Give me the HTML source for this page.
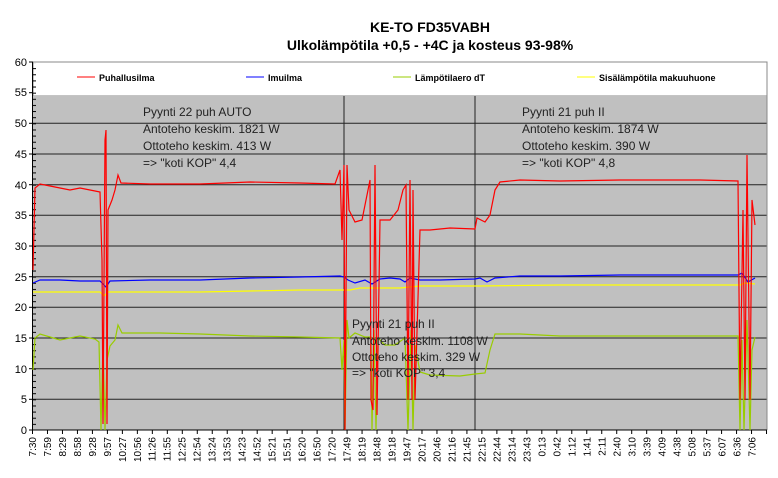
<!DOCTYPE html>
<html><head><meta charset="utf-8"><style>
body{margin:0;background:#fff;width:778px;height:478px;overflow:hidden}
svg{display:block;font-family:"Liberation Sans",Arial,sans-serif}
</style></head><body>
<svg width="778" height="478" viewBox="0 0 778 478" xmlns="http://www.w3.org/2000/svg">
<defs>
<pattern id="ym" patternUnits="userSpaceOnUse" x="0" y="430" width="10" height="6.1333"><line x1="0" y1="0.5" x2="10" y2="0.5" stroke="#000" stroke-width="1"/></pattern>
<pattern id="xm" patternUnits="userSpaceOnUse" x="32" y="0" width="14.98" height="10"><line x1="0.5" y1="0" x2="0.5" y2="10" stroke="#000" stroke-width="1"/></pattern>
</defs>
<text x="430" y="32" text-anchor="middle" font-size="14" font-weight="bold">KE-TO FD35VABH</text>
<text x="430" y="50" text-anchor="middle" font-size="14" font-weight="bold">Ulkolämpötila +0,5 - +4C ja kosteus 93-98%</text>
<rect x="33" y="62" width="734" height="34" fill="#fff" stroke="#888" stroke-width="1"/>
<rect x="33" y="96" width="734" height="334" fill="#c0c0c0"/>
<g stroke="#222" stroke-width="1">
<line x1="33" y1="123.3" x2="767" y2="123.3"/><line x1="33" y1="154" x2="767" y2="154"/>
<line x1="33" y1="184.7" x2="767" y2="184.7"/><line x1="33" y1="215.3" x2="767" y2="215.3"/>
<line x1="33" y1="246" x2="767" y2="246"/><line x1="33" y1="276.7" x2="767" y2="276.7"/>
<line x1="33" y1="307.3" x2="767" y2="307.3"/><line x1="33" y1="338" x2="767" y2="338"/>
<line x1="33" y1="368.7" x2="767" y2="368.7"/><line x1="33" y1="399.3" x2="767" y2="399.3"/>
<line x1="344" y1="96" x2="344" y2="430"/><line x1="475" y1="96" x2="475" y2="430"/>
</g>
<line x1="767" y1="62" x2="767" y2="430" stroke="#888"/>
<rect x="33" y="63" width="3" height="367" fill="url(#ym)"/>
<rect x="29" y="61" width="4" height="370" fill="url(#ym)" opacity="0"/>
<g stroke="#000">
<line x1="29" y1="62" x2="33" y2="62"/><line x1="29" y1="92.7" x2="33" y2="92.7"/><line x1="29" y1="123.3" x2="33" y2="123.3"/><line x1="29" y1="154" x2="33" y2="154"/><line x1="29" y1="184.7" x2="33" y2="184.7"/><line x1="29" y1="215.3" x2="33" y2="215.3"/><line x1="29" y1="246" x2="33" y2="246"/><line x1="29" y1="276.7" x2="33" y2="276.7"/><line x1="29" y1="307.3" x2="33" y2="307.3"/><line x1="29" y1="338" x2="33" y2="338"/><line x1="29" y1="368.7" x2="33" y2="368.7"/><line x1="29" y1="399.3" x2="33" y2="399.3"/><line x1="29" y1="430" x2="33" y2="430"/>
</g>
<rect x="32" y="430" width="736" height="4" fill="url(#xm)"/>
<line x1="32.5" y1="62" x2="32.5" y2="430" stroke="#000"/>
<line x1="32.5" y1="430" x2="767" y2="430" stroke="#000"/>
<g font-size="11" fill="#000" text-anchor="end">
<text x="27" y="66">60</text><text x="27" y="96">55</text><text x="27" y="127">50</text><text x="27" y="158">45</text>
<text x="27" y="189">40</text><text x="27" y="219">35</text><text x="27" y="250">30</text><text x="27" y="281">25</text>
<text x="27" y="311">20</text><text x="27" y="342">15</text><text x="27" y="373">10</text><text x="27" y="403">5</text><text x="27" y="434">0</text>
</g>
<g font-size="10" fill="#000" text-anchor="end">
<text transform="translate(36,437) rotate(-90)">7:30</text>
<text transform="translate(51,437) rotate(-90)">7:59</text>
<text transform="translate(66,437) rotate(-90)">8:29</text>
<text transform="translate(81,437) rotate(-90)">8:58</text>
<text transform="translate(96,437) rotate(-90)">9:28</text>
<text transform="translate(111,437) rotate(-90)">9:57</text>
<text transform="translate(126,437) rotate(-90)">10:27</text>
<text transform="translate(141,437) rotate(-90)">10:56</text>
<text transform="translate(155.5,437) rotate(-90)">11:26</text>
<text transform="translate(170.5,437) rotate(-90)">11:55</text>
<text transform="translate(185.5,437) rotate(-90)">12:25</text>
<text transform="translate(200.5,437) rotate(-90)">12:54</text>
<text transform="translate(215.5,437) rotate(-90)">13:24</text>
<text transform="translate(230.5,437) rotate(-90)">13:53</text>
<text transform="translate(245.5,437) rotate(-90)">14:23</text>
<text transform="translate(260.5,437) rotate(-90)">14:52</text>
<text transform="translate(275.5,437) rotate(-90)">15:21</text>
<text transform="translate(290.5,437) rotate(-90)">15:51</text>
<text transform="translate(305.5,437) rotate(-90)">16:20</text>
<text transform="translate(320.5,437) rotate(-90)">16:50</text>
<text transform="translate(335.5,437) rotate(-90)">17:20</text>
<text transform="translate(350.5,437) rotate(-90)">17:49</text>
<text transform="translate(365.5,437) rotate(-90)">18:19</text>
<text transform="translate(380.5,437) rotate(-90)">18:48</text>
<text transform="translate(395.5,437) rotate(-90)">19:18</text>
<text transform="translate(410.5,437) rotate(-90)">19:47</text>
<text transform="translate(425.5,437) rotate(-90)">20:17</text>
<text transform="translate(440.5,437) rotate(-90)">20:46</text>
<text transform="translate(455.5,437) rotate(-90)">21:16</text>
<text transform="translate(470.5,437) rotate(-90)">21:45</text>
<text transform="translate(485.5,437) rotate(-90)">22:15</text>
<text transform="translate(500.5,437) rotate(-90)">22:44</text>
<text transform="translate(515.5,437) rotate(-90)">23:14</text>
<text transform="translate(530.5,437) rotate(-90)">23:43</text>
<text transform="translate(545.5,437) rotate(-90)">0:13</text>
<text transform="translate(560.5,437) rotate(-90)">0:42</text>
<text transform="translate(575.5,437) rotate(-90)">1:12</text>
<text transform="translate(590.5,437) rotate(-90)">1:41</text>
<text transform="translate(605.5,437) rotate(-90)">2:11</text>
<text transform="translate(620.5,437) rotate(-90)">2:40</text>
<text transform="translate(635.5,437) rotate(-90)">3:10</text>
<text transform="translate(650.5,437) rotate(-90)">3:39</text>
<text transform="translate(665.5,437) rotate(-90)">4:09</text>
<text transform="translate(680.5,437) rotate(-90)">4:38</text>
<text transform="translate(695.5,437) rotate(-90)">5:08</text>
<text transform="translate(710.5,437) rotate(-90)">5:37</text>
<text transform="translate(725.5,437) rotate(-90)">6:07</text>
<text transform="translate(740.5,437) rotate(-90)">6:36</text>
<text transform="translate(755.5,437) rotate(-90)">7:06</text>
</g>
<!-- legend -->
<line x1="77" y1="77" x2="95" y2="77" stroke="#f00"/><text x="99" y="81" font-size="9" font-weight="bold">Puhallusilma</text>
<line x1="246" y1="77" x2="264" y2="77" stroke="#00f"/><text x="268" y="81" font-size="9" font-weight="bold">Imuilma</text>
<line x1="393" y1="77" x2="411" y2="77" stroke="#9c0"/><text x="415" y="81" font-size="9" font-weight="bold">Lämpötilaero dT</text>
<line x1="577" y1="77" x2="595" y2="77" stroke="#ff0"/><text x="599" y="81" font-size="9" font-weight="bold">Sisälämpötila makuuhuone</text>
<!-- series -->
<polyline fill="none" stroke="#ff0" stroke-width="1.2" points="33,292 100,292 104,296 108,292 200,292 250,291 300,290 340,290 350,290 360,288 400,288 420,286 480,286 560,285 650,285 740,285 745,283 755,284"/>
<polyline fill="none" stroke="#00f" stroke-width="1.2" points="33,283 40,280 60,280 80,281 100,281 103,284 106,287 110,281 150,280 200,280 250,278 300,277 340,276 344,277 348,280 355,283 365,280 372,284 380,279 390,278 400,279 405,282 410,278 420,280 440,280 475,279 480,278 487,282 495,278 520,276 560,276 620,275 700,275 738,275 742,273 748,282 755,278"/>
<polyline fill="none" stroke="#9c0" stroke-width="1.2" points="33,370 35,338 40,334 50,337 60,340 80,336 95,339 99,342 101,430 103,340 105,430 107,360 110,346 115,340 118,325 122,333 160,333 200,334 250,336 300,337 340,338 342,370 344,340 345,430 347,320 349,338 355,333 365,337 371,337 372,430 374,330 376,430 378,338 385,345 395,345 405,338 408,430 411,330 413,430 415,345 420,372 430,375 460,376 475,374 485,373 490,350 495,334 520,334 560,336 620,336 700,336 738,336 740,430 742,340 744,430 747,320 750,430 752,350 755,337"/>
<polyline fill="none" stroke="#f00" stroke-width="1.2" points="33,270 35,188 40,184 50,186 60,188 70,190 80,188 95,191 100,192 102,260 103,424 105,140 106,130 107,424 108,210 112,200 115,190 118,175 121,183 150,184 200,184 250,182 300,183 335,184 340,170 342,240 344,165 345,430 347,165 349,210 355,222 362,220 367,195 370,180 371,400 373,410 375,165 377,415 380,220 390,220 398,210 403,190 406,185 408,400 410,180 412,400 413,190 415,400 420,230 430,230 450,228 475,229 477,218 485,222 490,215 495,190 500,182 520,180 560,181 620,180 700,180 738,181 740,400 743,210 745,400 747,155 750,400 752,200 755,225"/>
<!-- annotations -->
<g font-size="12" fill="#222">
<text x="143" y="116">Pyynti 22 puh AUTO</text><text x="143" y="133">Antoteho keskim. 1821 W</text>
<text x="143" y="150">Ottoteho keskim. 413 W</text><text x="143" y="167">=&gt; "koti KOP" 4,4</text>
<text x="522" y="116">Pyynti 21 puh II</text><text x="522" y="133">Antoteho keskim. 1874 W</text>
<text x="522" y="150">Ottoteho keskim. 390 W</text><text x="522" y="167">=&gt; "koti KOP" 4,8</text>
<text x="352" y="328">Pyynti 21 puh II</text><text x="352" y="345">Antoteho keskim. 1108 W</text>
<text x="352" y="361">Ottoteho keskim. 329 W</text><text x="352" y="377">=&gt; "koti KOP" 3,4</text>
</g>
</svg>
</body></html>
